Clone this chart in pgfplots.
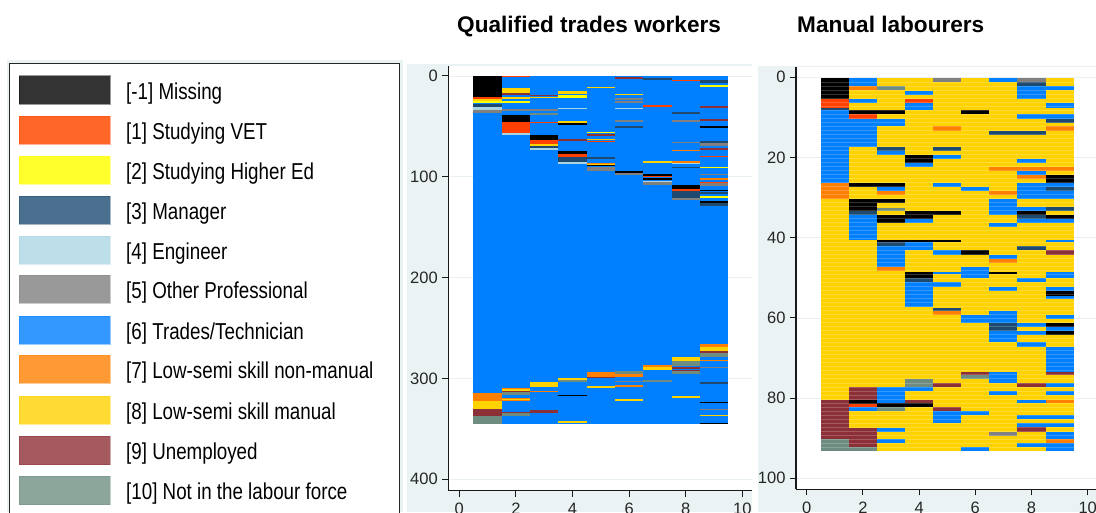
\documentclass[border=0pt]{standalone}
\usepackage{pgfplots}
\usepackage{fontspec}
\setmainfont{Liberation Sans}
\pgfplotsset{compat=1.18}
\definecolor{pan}{HTML}{EAF2F3}
\definecolor{gridc}{HTML}{E8F0F4}
\definecolor{c0}{HTML}{000000}
\definecolor{c1}{HTML}{FF4000}
\definecolor{c2}{HTML}{FFFF00}
\definecolor{c3}{HTML}{1F4A70}
\definecolor{c4}{HTML}{A8D4E4}
\definecolor{c5}{HTML}{808080}
\definecolor{c6}{HTML}{007FFF}
\definecolor{c7}{HTML}{FF7F00}
\definecolor{c8}{HTML}{FFD200}
\definecolor{c9}{HTML}{8C3037}
\definecolor{c10}{HTML}{6F8C80}
\definecolor{l0}{HTML}{333333}
\definecolor{l1}{HTML}{FF6628}
\definecolor{l2}{HTML}{FFFF2C}
\definecolor{l3}{HTML}{4A6F8F}
\definecolor{l4}{HTML}{BCDFE9}
\definecolor{l5}{HTML}{999999}
\definecolor{l6}{HTML}{3398FF}
\definecolor{l7}{HTML}{FF9933}
\definecolor{l8}{HTML}{FFDB33}
\definecolor{l9}{HTML}{A55A60}
\definecolor{l10}{HTML}{8CA69C}
% one series per occupation: column, first row, number of rows
\newcommand\seg[2]{\addplot[forget plot,draw=none,mark=none,
   error bars/.cd,y dir=plus,y explicit,error mark=none,
   error bar style={line width=\cw,draw=#1,solid}]
   table[row sep=\\,header=false,x index=0,y expr=\thisrowno{1}+\yo,y error index=2]{#2};}
\pgfplotsset{heat/.style={scale only axis,axis x line=bottom,axis y line=left,
  axis line style={-,line width=1.2pt,color=black!90},y dir=reverse,ymajorgrids,
  grid style={gridc,line width=.7pt},tick align=outside,major tick length=6pt,
  tick style={line width=1pt,color=black!90},
  xtick={0,2,...,10},
  /pgf/number format/assume math mode=true,
  tick label style={font=\fontsize{16.5}{17}\selectfont,color=black!85},
  xticklabel style={yshift=-3pt},yticklabel style={xshift=-1pt},
  axis background/.style={fill=white},clip=false}}
\newcommand\lgd[3]{%
  \fill[l#1,draw=c#1,draw opacity=.4] (19pt,#2pt) rectangle (110pt,#2pt-28.5pt);
  \node[anchor=west,inner sep=0pt,text=black] at (126pt,#2pt-18pt)
    {\fontsize{23}{24}\selectfont\scalebox{0.816}[1]{#3}};}
\begin{document}
\begin{tikzpicture}[x=1pt,y=1pt]
\clip (0,0) rectangle (1096,512);
\fill[white] (0,0) rectangle (1096,512);
\fill[pan] (7,0) rectangle (403,452);
\fill[pan] (407,0) rectangle (752,448);
\fill[pan] (758,0) rectangle (1096,446);
\fill[white,draw=black!85,line width=1pt] (9.5,-5) rectangle (399.5,448);
\lgd{0}{436.3}{[-1] Missing}
\lgd{1}{396}{[1] Studying VET}
\lgd{2}{356}{[2] Studying Higher Ed}
\lgd{3}{316}{[3] Manager}
\lgd{4}{276}{[4] Engineer}
\lgd{5}{237}{[5] Other Professional}
\lgd{6}{196}{[6] Trades/Technician}
\lgd{7}{157}{[7] Low-semi skill non-manual}
\lgd{8}{116}{[8] Low-semi skill manual}
\lgd{9}{76}{[9] Unemployed}
\lgd{10}{36}{[10] Not in the labour force}
\node[anchor=base west,inner sep=0pt] at (457,479.5) {\fontsize{22.6}{23}\selectfont\bfseries Qualified trades workers};
\node[anchor=base west,inner sep=0pt] at (797,479.5) {\fontsize{22.6}{23}\selectfont\bfseries Manual labourers};
\def\cw{28.3pt}\def\yo{0}
\begin{axis}[heat,at={(448.3pt,21.3pt)},anchor=south west,width=303.7pt,height=424.7pt,
  xmin=-0.389,xmax=10.34,ymin=-9.9,ymax=411.3,ytick={0,100,...,400}]
\seg{c6}{1 0 345.2\\2 0 345.2\\3 0 345.2\\4 0 345.2\\5 0 345.2\\6 0 345.2\\7 0 345.2\\8 0 345.2\\9 0 345.2\\}
\seg{c0}{1 0 20.5\\2 38.7 6.9\\3 58.2 5.3\\4 47 1.3\\4 74.7 3\\5 88.3 1\\6 94.2 2.3\\7 97.5 1.3\\7 101 2\\8 108.4 4\\9 49.6 1.6\\9 113 1.4\\9 123.6 2.7\\4 316.4 1.3\\9 323.3 1.4\\9 343.8 1.4\\}
\seg{c1}{1 20.5 2.5\\2 0 1.3\\2 45.6 10.6\\3 45.3 1.7\\3 63.5 3.9\\4 77.7 2.6\\5 64 .7\\7 28.8 1.6\\7 98.8 1.3\\8 4 1.3\\8 112.4 1.3\\9 79 1.3\\9 105.1 1.5\\}
\seg{c2}{1 24.5 2.5\\2 24.5 2.5\\3 21 1.1\\4 19.2 2.9\\5 55.2 1.3\\9 9.3 1.3\\9 89.9 1.7\\9 119 1.7\\}
\seg{c3}{1 28 2.4\\3 69.8 1.9\\4 80.3 5\\5 80.3 1.7\\6 49.6 1.6\\7 2.3 1.7\\8 35.7 1.7\\8 90 1.2\\8 113.7 7\\9 4 2.6\\9 64.8 1.6\\9 126.3 2.6\\9 115 1.7\\9 303.8 1.7\\}
\seg{c4}{1 30.4 3.3\\2 56.2 2\\3 71.7 1.7\\4 31.4 1.6\\4 85.6 1.7\\6 31.4 1.6\\7 104 1.3\\8 86 1.3\\}
\seg{c5}{1 33.7 3.3\\2 33 1.7\\3 33 1.7\\5 90 4\\6 21.5 2\\6 24.8 1.6\\6 44 1.6\\6 96.5 1.7\\7 105.3 2.8\\8 44 1.6\\8 65.1 1.3\\8 120.7 2.6\\9 66.8 2.3\\9 97.2 1\\9 106.6 2.2\\9 288.3 1.3\\6 302.5 1.3\\9 330.3 1.3\\}
\seg{c7}{1 314.7 7.3\\2 309.1 1.4\\2 319 1.1\\2 321.6 1.1\\3 312.4 1.4\\5 293.9 4.6\\6 295.2 3.3\\6 306.5 1.6\\7 287 1.3\\8 73 1.7\\8 84.6 1.4\\9 266.2 2.6\\9 281.4 1.3\\9 101.2 1.9\\5 86 1.3\\}
\seg{c8}{1 23 1.5\\1 322 8.3\\2 12.2 4.3\\2 20.5 2.5\\2 310.5 1.6\\2 320 1.6\\3 303.8 4.3\\3 67.4 2.4\\3 20.5 .6\\4 15.2 2.7\\4 44.3 2.7\\4 299.5 2\\4 342.5 2\\5 10.9 1.3\\5 307.5 1.6\\5 62.1 1.7\\5 87.3 1\\6 17.5 1.7\\6 320.4 1.6\\7 84.3 1.7\\7 288.3 3\\8 278.7 4\\8 317.4 1.6\\9 268.8 4.3\\9 335.9 1.3\\}
\seg{c9}{1 330.3 6.6\\2 16.5 2.5\\2 312.4 1.4\\2 332.9 1.3\\3 19.2 1\\3 331.3 3.3\\4 62.1 2.2\\5 57.9 1.6\\5 298.5 1\\6 1 1.6\\8 289 1.3\\8 291.3 1.3\\9 30 1.7\\9 43 1.6\\9 71.7 1.7\\9 273.1 1.3\\}
\seg{c10}{1 336.9 8.3\\2 313.8 2.9\\2 334.2 2.7\\3 37 1.7\\4 301.5 2.3\\6 292.9 2.3\\7 301.2 2.6\\8 282.7 4.6\\8 292.6 2.6\\9 274.4 4.3\\}
\end{axis}
\def\cw{28.1pt}\def\yo{0.17}
\begin{axis}[heat,at={(796pt,22.7pt)},anchor=south west,width=300pt,height=422.6pt,
  xmin=-0.381,xmax=10.295,ymin=-2.64,ymax=102.74,ytick={0,20,...,100}]
\seg{c8}{1 0 93\\2 0 93\\3 0 93\\4 0 93\\5 0 93\\6 0 93\\7 0 93\\8 0 93\\9 0 93\\}
\seg{c0}{1 0 5.3\\2 8 1\\3 8 1\\2 26.3 1\\3 26.3 1\\2 30.3 1\\3 30.3 1\\2 31.3 1.9\\3 34.2 2\\4 33.2 2\\5 33.2 1\\4 19.2 2.1\\6 8 1\\6 43 1.1\\3 40.4 .6\\4 40.4 .6\\5 40.4 .6\\4 48.3 1.7\\7 48.3 .7\\2 80.2 1.1\\3 81.1 .9\\4 81.1 .9\\8 33.2 1\\9 24.3 2\\9 34.2 1\\9 53.1 1.2\\9 61.2 1\\9 63.2 1\\}
\seg{c1}{1 5.3 2.1\\4 5.3 1\\2 9 1.2\\2 81.3 .8\\}
\seg{c3}{1 7.4 .6\\2 33.2 1\\3 17.1 1\\5 17.1 1\\8 1 1\\7 13.2 1\\8 13.2 1\\9 10.2 1.1\\9 27.3 1\\9 32.2 1\\8 34.2 1\\3 41 1\\8 42 1\\4 50 1\\5 57.3 .8\\7 61.2 2\\}
\seg{c5}{5 0 1\\8 0 1\\7 88.2 1.1\\}
\seg{c7}{2 2 1\\5 12.1 1.1\\9 12.1 1.1\\7 22.3 1\\8 22.3 1\\9 22.3 1\\8 24.3 .9\\1 26.3 4\\3 28.3 1\\7 28.3 1\\7 45.2 1\\3 47.2 1\\5 58.1 1\\9 80.2 .9\\9 90 1.1\\}
\seg{c9}{1 80.2 9.8\\2 77.1 3.1\\2 87.4 4.6\\4 80.2 .9\\5 76.1 1\\5 82.1 .9\\6 73.4 .7\\8 76.1 1\\8 87.1 1.1\\9 43 1.1\\9 73.4 .7\\}
\seg{c10}{1 90 3\\2 92 1\\3 2 1\\3 82 1\\4 75.1 2\\6 74.1 1\\3 32.3 .9\\}
\seg{c6}{1 8 18.3\\2 0 2\\2 5.3 1\\2 10.2 7.1\\2 34.2 6.2\\2 82.1 .9\\3 10.2 1.9\\3 18.1 1.1\\3 27.3 1\\3 42 5.2\\3 77.1 4\\3 87.4 .8\\3 90 1\\4 3.2 1\\4 6.3 1.7\\4 21.3 1\\4 35.2 .9\\4 41 2\\4 51 6.2\\4 77.1 1\\5 19.2 1\\5 26.3 1\\5 43 1.1\\5 48.3 .7\\5 51 1\\5 83 3.1\\6 27.3 1\\6 47.2 2.8\\6 59.1 2.1\\6 83 1\\6 92.1 .9\\7 0 1\\7 30.3 3.9\\7 36.1 1\\7 44.1 1.1\\7 52.2 .9\\7 58.1 3.1\\7 63.2 2.7\\7 73.4 2.7\\7 78.1 1\\8 2 3.3\\8 9 1.2\\8 20.2 1.1\\8 23.3 1\\8 26.3 4\\8 32.2 1\\8 35.2 1\\8 50 1\\8 61.2 1\\8 63.2 1\\8 65.9 1.1\\8 80.2 .9\\8 84 1.1\\8 86.1 1\\8 91.1 1\\9 2 1\\9 6.3 1.1\\9 9 1.2\\9 26.3 1\\9 28.3 2\\9 35.2 1\\9 40.4 .6\\9 48.3 1.7\\9 52.2 .9\\9 54.3 .9\\9 59.1 1.1\\9 62.2 1\\9 67 6.4\\9 76.1 1\\9 78.1 1\\9 84 1.1\\9 86.1 1\\9 88.2 1.8\\9 91.1 2\\}
\pgfplotsinvokeforeach{1,...,92}{\draw[white,opacity=.2,line width=.5pt] (axis cs:0.5,#1.17)--(axis cs:9.5,#1.17);}
\end{axis}
\end{tikzpicture}
\end{document}
